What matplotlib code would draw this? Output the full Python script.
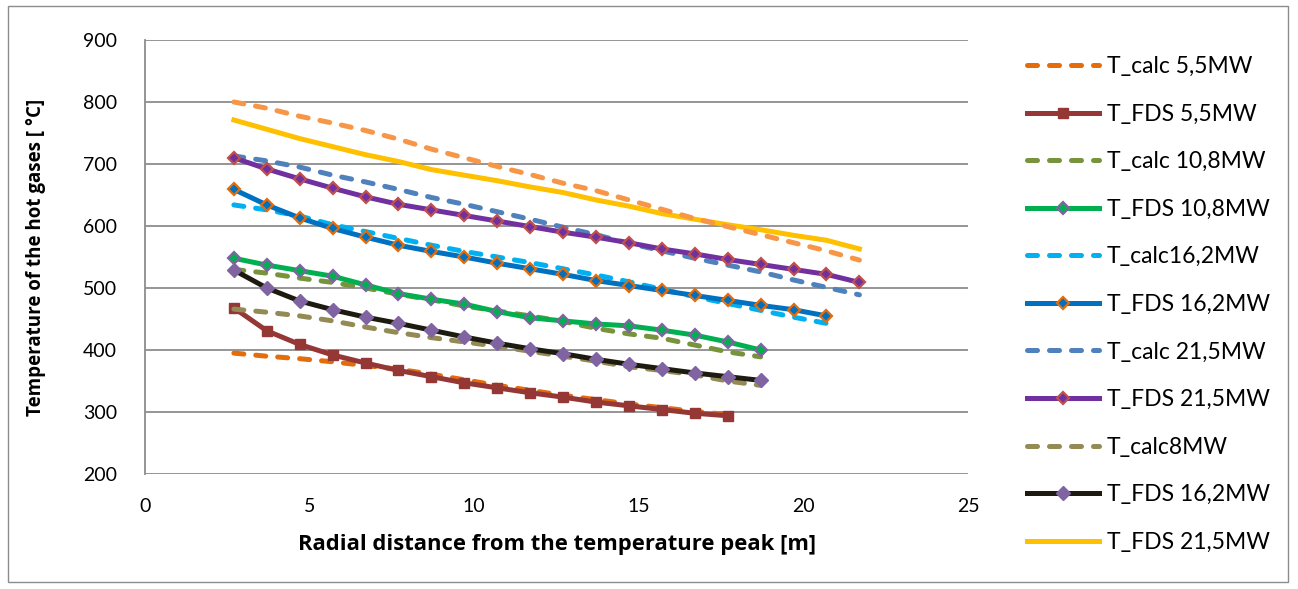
import matplotlib
matplotlib.use('Agg')
import matplotlib.pyplot as plt
from matplotlib.patches import Rectangle

plt.rcParams['font.family'] = ['Lato', 'DejaVu Sans']

# distances [m]
x_17 = [2.7, 3.7, 4.7, 5.7, 6.7, 7.7, 8.7, 9.7, 10.7, 11.7, 12.7, 13.7, 14.7, 15.7, 16.7, 17.7]
x_18 = x_17 + [18.7]
x_20 = x_18 + [19.7, 20.7]
x_21 = x_20 + [21.7]

# temperatures [°C]
calc_5_5 = [395, 390, 386, 381, 375, 369, 361, 352, 343, 335, 327, 320, 313, 307, 301, 296]
fds_5_5 = [468, 431, 409, 392, 379, 367, 357, 347, 339, 331, 324, 316, 310, 304, 298, 294]
calc_10_8 = [530, 524, 516, 509, 500, 490, 481, 471, 463, 455, 446, 435, 426, 419, 408, 397, 389]
fds_10_8 = [548, 537, 528, 519, 505, 491, 482, 474, 462, 452, 447, 442, 439, 432, 424, 413, 400]
calc_16_2 = [634, 626, 616, 602, 591, 580, 569, 559, 550, 541, 531, 521, 510, 498, 486, 475, 464, 453, 443]
fds_16_2 = [659, 634, 613, 596, 582, 569, 559, 550, 540, 531, 522, 512, 504, 496, 488, 480, 472, 465, 455]
calc_21_5 = [713, 705, 695, 682, 671, 659, 646, 635, 623, 611, 598, 586, 572, 560, 548, 537, 526, 513, 501, 489]
fds_21_5 = [710, 692, 676, 661, 647, 635, 626, 617, 608, 599, 590, 582, 573, 563, 555, 546, 538, 530, 522, 509]
calc_8 = [466, 461, 455, 447, 437, 428, 420, 413, 406, 398, 390, 382, 373, 367, 360, 350, 343]
fds_8 = [529, 500, 479, 465, 453, 443, 432, 421, 411, 402, 394, 385, 377, 370, 363, 357, 351]
fds_21_5_b = [771, 756, 741, 728, 715, 704, 691, 682, 673, 663, 654, 642, 632, 620, 611, 602, 594, 585, 577, 563]
calc_extra = [800, 790, 777, 766, 754, 740, 724, 710, 696, 683, 669, 657, 642, 627, 612, 599, 586, 573, 560, 545]

fig = plt.figure(figsize=(12.98, 5.89), dpi=100)
ax = fig.add_axes([0.1117, 0.1952, 0.6341, 0.7369])

lw = 3.6
dash = dict(linestyle=(0, (2.0, 2.4)), dash_capstyle='round', lw=lw)

ax.plot(x_17, calc_5_5, color='#E46C0A', label='T_calc 5,5MW', **dash)
ax.plot(x_17, fds_5_5, color='#953735', lw=lw, marker='s', ms=7,
        mfc='#953735', mec='#953735', label='T_FDS 5,5MW')
ax.plot(x_18, calc_10_8, color='#77933C', label='T_calc 10,8MW', **dash)
ax.plot(x_18, fds_10_8, color='#00B050', lw=lw, marker='D', ms=6.5,
        mfc='#00B050', mec='#8064A2', mew=1.6, label='T_FDS 10,8MW')
ax.plot(x_20, calc_16_2, color='#00B0F0', label='T_calc16,2MW', **dash)
ax.plot(x_20, fds_16_2, color='#0070C0', lw=lw, marker='D', ms=6.5,
        mfc='#0070C0', mec='#E46C0A', mew=1.6, label='T_FDS 16,2MW')
ax.plot(x_21, calc_21_5, color='#4F81BD', label='T_calc 21,5MW', **dash)
ax.plot(x_21, fds_21_5, color='#7030A0', lw=lw, marker='D', ms=6.5,
        mfc='#7030A0', mec='#C0504D', mew=1.6, label='T_FDS 21,5MW')
ax.plot(x_18, calc_8, color='#948A54', label='T_calc8MW', **dash)
ax.plot(x_18, fds_8, color='#1D1B10', lw=lw, marker='D', ms=7,
        mfc='#8064A2', mec='#8064A2', label='T_FDS 16,2MW')
ax.plot(x_21, fds_21_5_b, color='#FFC000', lw=lw, label='T_FDS 21,5MW')
ax.plot(x_21, calc_extra, color='#F79646', **dash)

ax.set_xlim(0, 25)
ax.set_ylim(200, 900)
ax.set_xticks([0, 5, 10, 15, 20, 25])
ax.set_yticks(range(200, 1000, 100))
ax.grid(axis='y', color='#8C8C8C', lw=1.3)
ax.set_axisbelow(True)
for s in ['top', 'right', 'bottom']:
    ax.spines[s].set_visible(False)
ax.spines['left'].set_color('#8C8C8C')
ax.spines['left'].set_linewidth(1.3)
ax.tick_params(length=0, labelsize=14)
ax.tick_params(axis='x', pad=17)
ax.tick_params(axis='y', pad=20)

ax.set_xlabel('Radial distance from the temperature peak [m]', fontsize=15.8,
              fontweight='bold', family=['Open Sans', 'DejaVu Sans'], labelpad=14)
ax.set_ylabel('Temperature of the hot gases [ °C]', fontsize=13.5,
              fontweight='bold', family=['Open Sans', 'DejaVu Sans'], labelpad=27)

fig.legend(loc='upper left', bbox_to_anchor=(0.775, 0.94), frameon=False,
           fontsize=16.5, handlelength=3.15, handletextpad=0.35, labelspacing=1.16)

fig.patches.append(Rectangle((0.006, 0.012), 0.986, 0.978, transform=fig.transFigure,
                             fill=False, edgecolor='#8C8C8C', lw=1))

fig.savefig('out.png', dpi=100)
